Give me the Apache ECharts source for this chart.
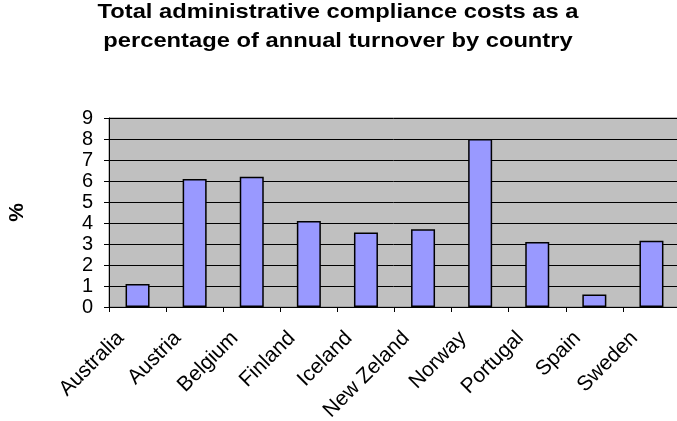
<!DOCTYPE html>
<html><head><meta charset="utf-8">
<script src="https://cdn.jsdelivr.net/npm/echarts@6/dist/echarts.min.js"></script>
<style>html,body{margin:0;padding:0;background:#fff}#c{width:677px;height:421px}</style>
</head><body><div id="c"></div>
<script>
const categories = ['Australia','Austria','Belgium','Finland','Iceland','New Zeland','Norway','Portugal','Spain','Sweden'];
const values = [1.1, 6.1, 6.2, 4.1, 3.55, 3.7, 8.0, 3.1, 0.6, 3.15];
const titleLines = ['Total administrative compliance costs as a','percentage of annual turnover by country'];
const yName = '%';

const chart = echarts.init(document.getElementById('c'));
const titleFont = 'bold 21px "Liberation Sans"';
chart.setOption({
  animation: false,
  backgroundColor: '#fff',
  graphic: [
    {type: 'text', x: 338, y: 12.5, scaleX: 1.13, style: {text: titleLines[0], font: titleFont, fill: '#000', align: 'center', verticalAlign: 'middle'}},
    {type: 'text', x: 338, y: 41, scaleX: 1.13, style: {text: titleLines[1], font: titleFont, fill: '#000', align: 'center', verticalAlign: 'middle'}}
  ],
  grid: {left: 109, right: -3, top: 118, bottom: 114, outerBoundsMode: 'none', containLabel: false,
         show: true, backgroundColor: '#c0c0c0', borderColor: '#808080', borderWidth: 1},
  xAxis: {
    type: 'category', data: categories,
    axisLine: {lineStyle: {color: '#000', width: 1}},
    axisTick: {show: true, length: 5, lineStyle: {color: '#000'}},
    axisLabel: {rotate: 45, fontFamily: 'Liberation Sans', fontSize: 21, color: '#000', margin: 11, interval: 0, padding: [0, 24, 0, 0]}
  },
  yAxis: {
    type: 'value', min: 0, max: 9, interval: 1,
    name: yName, nameLocation: 'middle', nameGap: 81, nameRotate: 90,
    nameTextStyle: {fontFamily: 'Liberation Sans', fontWeight: 'bold', fontSize: 21, color: '#000'},
    axisLine: {show: true, lineStyle: {color: '#000', width: 1}},
    axisTick: {show: true, length: 5, lineStyle: {color: '#000'}},
    splitLine: {lineStyle: {color: '#000', width: 1}},
    axisLabel: {fontFamily: 'Liberation Sans', fontSize: 20, color: '#000', margin: 16}
  },
  series: [{
    type: 'bar', data: values, barWidth: 24,
    itemStyle: {color: '#9999ff', borderColor: '#000', borderWidth: 1.5}
  }]
});
</script></body></html>
